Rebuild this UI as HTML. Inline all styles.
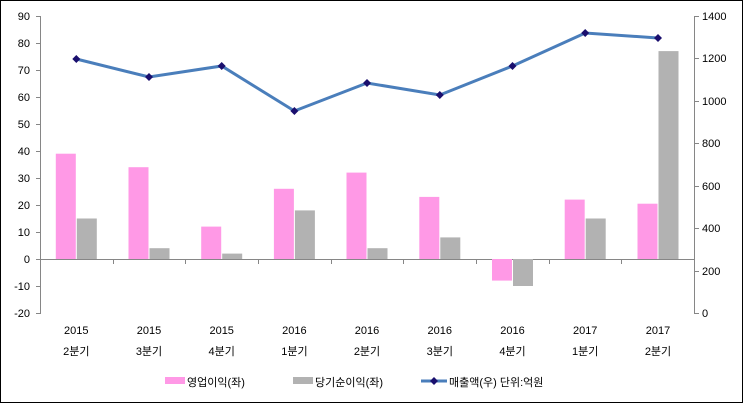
<!DOCTYPE html><html><head><meta charset="utf-8"><style>body{margin:0;background:#fff}svg{display:block}text{font-family:"Liberation Sans","Noto Sans CJK KR",sans-serif;font-size:11px;fill:#000}</style></head><body>
<svg width="743" height="403" viewBox="0 0 743 403">
<rect x="0.5" y="0.5" width="742" height="402" fill="#fff" stroke="#000"/>
<g stroke="#868686" stroke-width="1" fill="none">
<path d="M40.5 16V313M36 16.5h5M36 43.5h5M36 70.5h5M36 97.5h5M36 124.5h5M36 151.5h5M36 178.5h5M36 205.5h5M36 232.5h5M36 259.5h5M36 286.5h5M36 313.5h5"/>
<path d="M694.5 16V313M694 16.5h5M694 58.5h5M694 101.5h5M694 143.5h5M694 186.5h5M694 228.5h5M694 271.5h5M694 313.5h5"/>
<path d="M40 259.5H694M40.5 259v5M113.5 259v5M185.5 259v5M258.5 259v5M331.5 259v5M403.5 259v5M476.5 259v5M549.5 259v5M621.5 259v5M694.5 259v5"/>
</g>
<g fill="#ff99e6">
<rect x="55.8" y="153.7" width="20" height="105.3"/><rect x="128.5" y="167.2" width="20" height="91.8"/><rect x="201.2" y="226.6" width="20" height="32.4"/><rect x="273.9" y="188.8" width="20" height="70.2"/><rect x="346.5" y="172.6" width="20" height="86.4"/><rect x="419.3" y="196.9" width="20" height="62.1"/><rect x="492" y="259" width="20" height="21.6"/><rect x="564.7" y="199.6" width="20" height="59.4"/><rect x="637.5" y="203.7" width="20" height="55.3"/>
</g>
<g fill="#b2b2b2">
<rect x="76.8" y="218.5" width="20" height="40.5"/><rect x="149.5" y="248.2" width="20" height="10.8"/><rect x="222.2" y="253.6" width="20" height="5.4"/><rect x="294.9" y="210.4" width="20" height="48.6"/><rect x="367.5" y="248.2" width="20" height="10.8"/><rect x="440.3" y="237.4" width="20" height="21.6"/><rect x="513" y="259" width="20" height="27"/><rect x="585.7" y="218.5" width="20" height="40.5"/><rect x="658.5" y="51.1" width="20" height="207.9"/>
</g>
<polyline fill="none" stroke="#4a7ebb" stroke-width="3" points="76.3,59 149,77 221.7,66 294.4,111 367,83 439.8,95 512.5,66 585.2,33 658,38"/>
<g fill="#1a0f6e">
<path d="M76.3 55l4 4-4 4-4-4zM149 73l4 4-4 4-4-4zM221.7 62l4 4-4 4-4-4zM294.4 107l4 4-4 4-4-4zM367 79l4 4-4 4-4-4zM439.8 91l4 4-4 4-4-4zM512.5 62l4 4-4 4-4-4zM585.2 29l4 4-4 4-4-4zM658 34l4 4-4 4-4-4z"/>
</g>
<g text-anchor="end">
<text x="30" y="20">90</text><text x="30" y="47">80</text><text x="30" y="74">70</text><text x="30" y="101">60</text><text x="30" y="128">50</text><text x="30" y="155">40</text><text x="30" y="182">30</text><text x="30" y="209">20</text><text x="30" y="236">10</text><text x="30" y="263">0</text><text x="30" y="290">-10</text><text x="30" y="317">-20</text>
</g>
<g>
<text x="702" y="20">1400</text><text x="702" y="62">1200</text><text x="702" y="105">1000</text><text x="702" y="147">800</text><text x="702" y="190">600</text><text x="702" y="232">400</text><text x="702" y="275">200</text><text x="702" y="317">0</text>
</g>
<g text-anchor="middle" font-size="12">
<text x="76.3" y="334">2015</text><text x="149" y="334">2015</text><text x="221.7" y="334">2015</text><text x="294.4" y="334">2016</text><text x="367" y="334">2016</text><text x="439.8" y="334">2016</text><text x="512.5" y="334">2016</text><text x="585.2" y="334">2017</text><text x="658" y="334">2017</text>
<text x="76.3" y="355">2분기</text><text x="149" y="355">3분기</text><text x="221.7" y="355">4분기</text><text x="294.4" y="355">1분기</text><text x="367" y="355">2분기</text><text x="439.8" y="355">3분기</text><text x="512.5" y="355">4분기</text><text x="585.2" y="355">1분기</text><text x="658" y="355">2분기</text>
</g>
<rect x="165" y="377" width="20" height="7" fill="#ff99e6"/><text x="187" y="386">영업이익(좌)</text>
<rect x="293" y="377" width="20" height="7" fill="#b2b2b2"/><text x="315" y="386">당기순이익(좌)</text>
<line x1="421" y1="381" x2="447" y2="381" stroke="#4a7ebb" stroke-width="3"/><path d="M434 377l4 4-4 4-4-4z" fill="#1a0f6e"/><text x="449" y="386">매출액(우)  단위:억원</text>
</svg></body></html>
